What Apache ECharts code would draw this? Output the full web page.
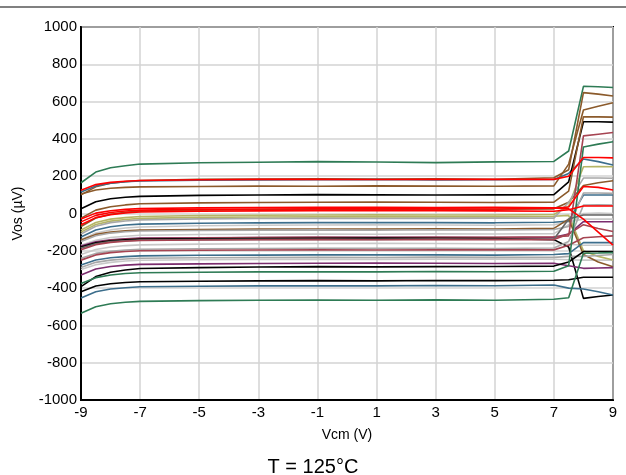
<!DOCTYPE html>
<html>
<head>
<meta charset="utf-8">
<script src="https://cdn.jsdelivr.net/npm/echarts@6/dist/echarts.min.js"></script>
<style>html,body{margin:0;padding:0;background:#fff}#c{width:626px;height:475px}</style>
</head>
<body>
<div id="c"></div>
<script>
// Vcm sample points (V)
const vcm = [-9, -8.5, -8, -7.5, -7, -5, -3, -1, 1, 3, 5, 7, 7.5, 8, 8.5, 9];
const xTicks = [-9, -7, -5, -3, -1, 1, 3, 5, 7, 9];
const yTicks = [-1000, -800, -600, -400, -200, 0, 200, 400, 600, 800, 1000];

// Vos (µV) per unit
const green1   = [165, 222, 245, 256, 265, 272, 275, 278, 276, 273, 277, 279, 335, 682, 680, 676];
const brown1   = [100, 143, 162, 171, 177, 183, 185, 186, 185, 186, 184, 192, 235, 648, 640, 630];
const blue1    = [115, 148, 162, 170, 174, 178, 180, 181, 182, 180, 181, 182, 215, 292, 278, 260];
const brown2   = [105, 126, 135, 140, 143, 145, 147, 146, 148, 147, 146, 148, 265, 555, 575, 594];
const black1   = [25, 63, 79, 87, 92, 97, 99, 101, 100, 99, 100, 101, 170, 492, 492, 490];
const brown3   = [-25, 18, 36, 46, 52, 57, 59, 60, 61, 60, 59, 61, 120, 519, 518, 517];
const brown4   = [-70, -24, -4, 6, 13, 18, 21, 22, 21, 22, 23, 25, 60, 150, 165, 176];
const olive1   = [-88, -48, -30, -22, -16, -11, -9, -8, -7, -8, -8, -5, 40, 251, 252, 251];
const olive2   = [-100, -59, -41, -32, -26, -21, -19, -18, -17, -18, -18, -15, -10, -200, -230, -249];
const gray1    = [-110, -68, -49, -40, -34, -29, -27, -26, -27, -26, -25, -25, 60, 190, 190, 189];
const blue2    = [-126, -88, -71, -62, -57, -52, -50, -49, -48, -49, -50, -47, -40, 99, 99, 99];
const lgray1   = [-140, -105, -88, -78, -72, -66, -63, -62, -61, -62, -63, -60, -45, -30, -30, -30];
const brown5   = [-142, -112, -100, -93, -89, -86, -84, -83, -84, -82, -83, -80, -30, -220, -260, -285];
const gray2    = [-150, -119, -105, -98, -94, -91, -89, -88, -89, -87, -88, -86, -70, 110, 110, 108];
const lgray2   = [-170, -143, -129, -122, -117, -113, -111, -110, -111, -109, -110, -108, -60, 0, 2, 0];
const purple1  = [-175, -152, -141, -136, -132, -130, -129, -128, -127, -128, -129, -128, -110, -44, -44, -44];
const darkred2 = [-185, -157, -144, -138, -134, -131, -129, -128, -129, -128, -127, -125, -120, 416, 425, 434];
const black2   = [-180, -157, -146, -141, -137, -135, -134, -133, -132, -133, -134, -140, -180, -455, -445, -437];
const dgray1   = [-185, -162, -151, -146, -143, -140, -139, -138, -139, -137, -138, -138, -30, -8, -8, -8];
const darkred1 = [-195, -167, -155, -149, -145, -142, -141, -140, -141, -140, -140, -140, -110, -60, -80, -97];
const lgray3   = [-220, -193, -180, -172, -168, -164, -162, -161, -160, -161, -162, -160, -165, -170, -170, -170];
const gray3    = [-240, -214, -202, -196, -192, -189, -188, -187, -186, -187, -188, -185, -150, 45, 46, 45];
const darkred3 = [-250, -222, -210, -204, -200, -197, -196, -195, -196, -195, -194, -195, -170, -130, -125, -120];
const blue3    = [-276, -249, -237, -231, -227, -224, -223, -222, -221, -222, -223, -220, -215, -156, -156, -156];
const gray4    = [-290, -262, -250, -244, -240, -237, -236, -235, -236, -234, -235, -235, -230, -230, -225, -220];
const lgray4   = [-300, -275, -262, -255, -251, -248, -246, -245, -246, -245, -244, -245, -248, -250, -250, -250];
const purple2  = [-330, -298, -284, -277, -273, -270, -268, -267, -266, -267, -268, -267, -280, -294, -292, -290];
const black3   = [-392, -338, -315, -303, -295, -290, -287, -285, -286, -285, -284, -282, -260, -204, -204, -204];
const green2   = [-375, -344, -330, -322, -318, -315, -313, -312, -313, -311, -312, -310, -280, 357, 372, 385];
const black4   = [-419, -389, -377, -370, -366, -363, -361, -360, -361, -359, -360, -358, -355, -342, -342, -342];
const blue4    = [-453, -420, -405, -398, -393, -390, -388, -387, -388, -386, -387, -383, -400, -405, -420, -437];
const green3   = [-535, -500, -484, -476, -471, -467, -465, -464, -465, -463, -465, -460, -452, -213, -212, -210];
const red1     = [125, 155, 167, 173, 177, 181, 183, 184, 182, 184, 183, 183, 200, 300, 300, 298];
const red2     = [-30, 2, 15, 22, 27, 30, 32, 33, 33, 32, 33, 30, 25, -30, -100, -170];
const red3     = [-45, -10, 5, 13, 18, 22, 24, 25, 26, 25, 24, 28, 35, 145, 140, 126];
const red4     = [-60, -22, -6, 3, 8, 12, 14, 15, 16, 15, 14, 12, 20, 40, 40, 40];

const curves = [
  [lgray1, '#c8c8c8'], [lgray2, '#c8c8c8'], [lgray3, '#c8c8c8'], [lgray4, '#c8c8c8'],
  [green1, '#2e7b55'], [brown1, '#8b5a2b'], [blue1, '#3c6e8c'], [brown2, '#8b5a2b'],
  [black1, '#000000'], [brown3, '#8b5a2b'], [brown4, '#8b5a2b'], [olive1, '#b5b565'],
  [olive2, '#b5b565'], [gray1, '#a8a8a8'], [blue2, '#3c6e8c'], [brown5, '#8b5a2b'],
  [gray2, '#a8a8a8'], [purple1, '#7b2c6e'], [darkred2, '#a64452'], [black2, '#000000'],
  [dgray1, '#666666'], [darkred1, '#a64452'], [gray3, '#a8a8a8'], [darkred3, '#a64452'],
  [blue3, '#3c6e8c'], [gray4, '#a8a8a8'], [purple2, '#7b2c6e'], [black3, '#000000'],
  [green2, '#2e7b55'], [black4, '#000000'], [blue4, '#3c6e8c'], [green3, '#2e7b55'],
  [red1, '#ff0000'], [red2, '#ff0000'], [red3, '#ff0000'], [red4, '#ff0000']
];

const chart = echarts.init(document.getElementById('c'), null, {renderer: 'canvas'});
const font = 'Liberation Sans, Arial, sans-serif';
chart.setOption({
  animation: false,
  backgroundColor: '#ffffff',
  title: {
    text: 'T = 125°C', left: 'center', top: 452,
    textStyle: {fontFamily: font, fontSize: 20, fontWeight: 'normal', color: '#000'}
  },
  graphic: [{
    type: 'line', shape: {x1: 0, y1: 7, x2: 626, y2: 7},
    style: {stroke: '#808080', lineWidth: 2}
  }],
  grid: {left: 81, right: 13, top: 27, bottom: 75, show: true, borderColor: '#000', borderWidth: 2, backgroundColor: 'transparent'},
  xAxis: {
    type: 'value', min: xTicks[0], max: xTicks[xTicks.length - 1], interval: 2,
    name: 'Vcm (V)', nameLocation: 'middle', nameGap: 28,
    nameTextStyle: {fontFamily: font, fontSize: 14, color: '#000'},
    axisLine: {show: true, onZero: false, lineStyle: {color: '#000', width: 2}},
    axisTick: {show: false},
    axisLabel: {fontFamily: font, fontSize: 15, color: '#000', margin: 5, formatter: v => String(v)},
    splitLine: {show: true, lineStyle: {color: '#d3d3d3', width: 1.5}}
  },
  yAxis: {
    type: 'value', min: yTicks[0], max: yTicks[yTicks.length - 1], interval: 200,
    name: 'Vos (µV)', nameLocation: 'middle', nameGap: 56,
    nameTextStyle: {fontFamily: font, fontSize: 14, color: '#000'},
    axisLine: {show: true, onZero: false, lineStyle: {color: '#000', width: 2}},
    axisTick: {show: false},
    axisLabel: {fontFamily: font, fontSize: 15, color: '#000', margin: 4, formatter: v => String(v)},
    splitLine: {show: true, lineStyle: {color: '#d3d3d3', width: 1.5}}
  },
  series: curves.map(([vals, color]) => ({
    type: 'line',
    data: vcm.map((x, i) => [x, vals[i]]),
    showSymbol: false,
    lineStyle: {color: color, width: 1.6},
    emphasis: {disabled: true},
    silent: true,
    z: 2
  }))
});
</script>
</body>
</html>
